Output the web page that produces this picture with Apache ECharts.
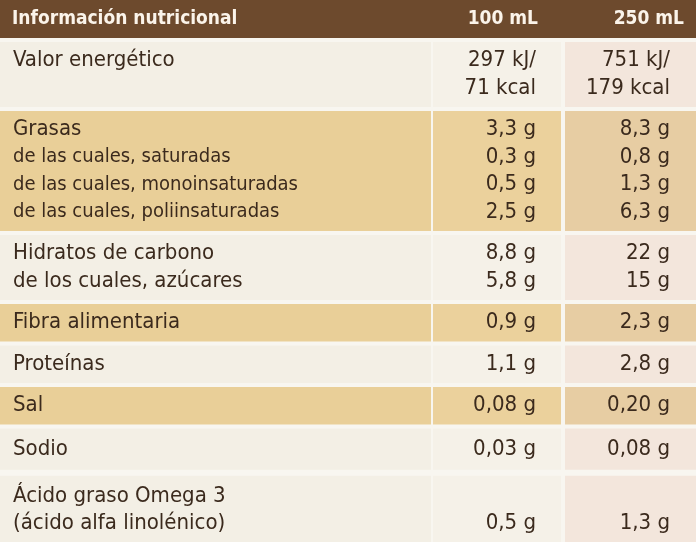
<!DOCTYPE html>
<html><head><meta charset="utf-8">
<script src="https://cdn.jsdelivr.net/npm/echarts@6/dist/echarts.min.js"></script>
<style>html,body{margin:0;padding:0;background:#f8f6f0}#c{width:696px;height:542px}</style>
</head><body><div id="c"></div>
<script>
const headers = ["Información nutricional", "100 mL", "250 mL"];
const labels = [
  ["Valor energético"],
  ["Grasas", "de las cuales, saturadas", "de las cuales, monoinsaturadas", "de las cuales, poliinsaturadas"],
  ["Hidratos de carbono", "de los cuales, azúcares"],
  ["Fibra alimentaria"],
  ["Proteínas"],
  ["Sal"],
  ["Sodio"],
  ["Ácido graso Omega 3", "(ácido alfa linolénico)"]
];
const v100 = [
  ["297 kJ/", "71 kcal"],
  ["3,3 g", "0,3 g", "0,5 g", "2,5 g"],
  ["8,8 g", "5,8 g"],
  ["0,9 g"], ["1,1 g"], ["0,08 g"], ["0,03 g"],
  ["", "0,5 g"]
];
const v250 = [
  ["751 kJ/", "179 kcal"],
  ["8,3 g", "0,8 g", "1,3 g", "6,3 g"],
  ["22 g", "15 g"],
  ["2,3 g"], ["2,8 g"], ["0,20 g"], ["0,08 g"],
  ["", "1,3 g"]
];
const tanRows = [1, 3, 5];

const W = 696, H = 542, headH = 38, gap = 4, lineH = 27.5, pad = 10;
const nLines = labels.map((l, i) => Math.max(l.length, v100[i].length));
let heights = nLines.map(n => n * lineH + pad);
let used = headH + heights.reduce((a, b) => a + b, 0) + gap * labels.length;
heights[6] += Math.max(0, (H - used) * 0.55);
heights[7] += Math.max(0, (H - used) * 0.45);
const tops = [];
let y = headH + gap;
heights.forEach((h, i) => { tops.push(y); y += h + gap; if (i === 6) y += 2; });

const col1 = 432, col2 = 563;
const font = '"DejaVu Sans Condensed", "Liberation Sans Narrow", sans-serif';
const ink = '#3b2a1d';

const chart = echarts.init(document.getElementById('c'));
function txt(x, yy, s, align, bold, color, size) {
  return {type: 'text', style: {x, y: yy, text: s, align, verticalAlign: 'middle',
    font: (bold ? 'bold ' : '') + (size || 19) + 'px ' + font, fill: color || ink}};
}
chart.setOption({
  animation: false,
  grid: {left: 0, right: 0, top: 0, bottom: 0},
  xAxis: {type: 'value', min: 0, max: W, show: false},
  yAxis: {type: 'value', min: 0, max: H, inverse: true, show: false},
  series: [{
    type: 'custom',
    data: [-1].concat(labels.map((_, i) => i)),
    renderItem: function (params, api) {
      const i = api.value(0);
      const ch = [];
      const P = (x, yy) => api.coord([x, yy]);
      if (i < 0) {
        const a = P(0, 0), b = P(W, headH);
        ch.push({type: 'rect', shape: {x: a[0], y: a[1], width: b[0] - a[0], height: b[1] - a[1]}, style: {fill: '#6d4a2d'}});
        const m = P(0, headH / 2)[1];
        ch.push(txt(P(12, 0)[0], m, headers[0], 'left', true, '#fbf4ea', 19));
        ch.push(txt(P(538, 0)[0], m, headers[1], 'right', true, '#fbf4ea', 19));
        ch.push(txt(P(684, 0)[0], m, headers[2], 'right', true, '#fbf4ea', 19));
        return {type: 'group', children: ch};
      }
      const tan = tanRows.indexOf(i) >= 0;
      const t = tops[i], h = heights[i];
      const fills = tan ? ['#e9cf98', '#ebd19c', '#e7cda3'] : ['#f3efe5', '#f5f1e8', '#f3e6dc'];
      const xs = [[0, col1 - 1], [col1 + 1, col2 - 2], [col2 + 2, W]];
      xs.forEach((c, k) => {
        const a = P(c[0], t), b = P(c[1], t + h);
        ch.push({type: 'rect', shape: {x: a[0], y: a[1], width: b[0] - a[0], height: b[1] - a[1]}, style: {fill: fills[k]}});
      });
      const n = nLines[i];
      const off = (h - n * lineH) / 2;
      for (let k = 0; k < n; k++) {
        const yy = P(0, t + off + lineH * (k + 0.5))[1];
        if (labels[i][k]) ch.push(txt(P(13, 0)[0], yy, labels[i][k], 'left', false, ink, k > 0 && i === 1 ? 20 : 22));
        if (v100[i][k]) ch.push(txt(P(536, 0)[0], yy, v100[i][k], 'right', false, ink, 22));
        if (v250[i][k]) ch.push(txt(P(670, 0)[0], yy, v250[i][k], 'right', false, ink, 22));
      }
      return {type: 'group', children: ch};
    }
  }]
});
</script></body></html>
